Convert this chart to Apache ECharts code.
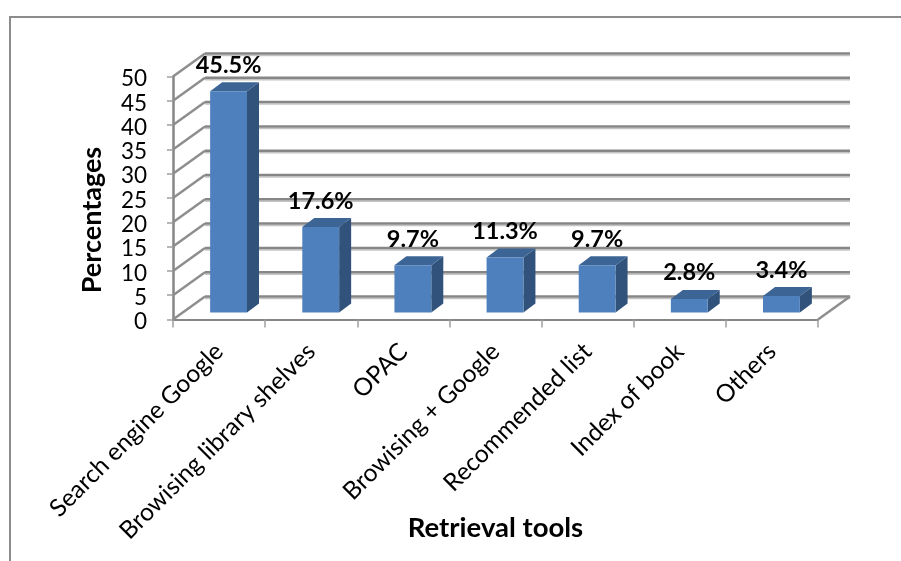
<!DOCTYPE html>
<html><head><meta charset="utf-8">
<style>html,body{margin:0;padding:0;background:#fff}#c{width:901px;height:561px}</style>
<script src="https://cdn.jsdelivr.net/npm/echarts@6/dist/echarts.min.js"></script>
</head><body><div id="c"></div>
<script>
const categories = ['Search engine Google','Browising library shelves','OPAC','Browising + Google','Recommended list','Index of book','Others'];
const values = [45.5,17.6,9.7,11.3,9.7,2.8,3.4];
const valueLabels = ['45.5%','17.6%','9.7%','11.3%','9.7%','2.8%','3.4%'];
const yTicks = [0,5,10,15,20,25,30,35,40,45,50];
const xTitle = 'Retrieval tools';
const yTitle = 'Percentages';

const FONT = 'Lato, "Open Sans", sans-serif';
const WALL = [32,-23];      // depth of the plot box
const BASE = [9.5,-7];      // where the bar's front face stands inside the box
const BAR = [12,-9];        // bar depth
const GRID = '#868686';

function wallItem(params, api){
  const v = api.value(0);
  const cs = params.coordSys;
  const left = cs.x, right = cs.x+cs.width;
  const y = api.coord([0,v])[1];
  const bx0 = left+WALL[0], bx1 = right+WALL[0], by = y+WALL[1];
  const line = (x1,y1,x2,y2,s,w)=>({type:'line',shape:{x1,y1,x2,y2},style:{stroke:s,lineWidth:w}});
  const kids = [];
  kids.push(line(bx0,by+2,bx1,by+2,'#c4c4c4',1.5));
  kids.push(line(bx0,by,bx1,by,GRID,2.5));
  kids.push(line(left,y,bx0,by,'#8e8e8e',2.5));
  if(v===0) kids.push(line(right,y,bx1,by,'#8e8e8e',2.5));
  return {type:'group',children:kids};
}
function barItem(params, api){
  const i = api.value(0), v = api.value(1);
  const top = api.coord([i,v]), bot = api.coord([i,0]);
  const w = api.size([1,0])[0]*0.4;
  const x0 = top[0]-w/2+BASE[0], x1 = x0+w;
  const yt = top[1]+BASE[1], yb = bot[1]+BASE[1];
  const dx = BAR[0], dy = BAR[1];
  return {type:'group',children:[
    {type:'polygon',shape:{points:[[x1,yt],[x1+dx,yt+dy],[x1+dx,yb+dy],[x1,yb]]},style:{fill:'#31527B'}},
    {type:'polygon',shape:{points:[[x0,yt],[x0+dx,yt+dy],[x1+dx,yt+dy],[x1,yt]]},style:{fill:'#3C6595'}},
    {type:'rect',shape:{x:x0,y:yt,width:w,height:yb-yt},style:{fill:'#4E80BD'}},
    {type:'text',style:{text:valueLabels[i],x:(x0+x1)/2,y:yt-26,align:'center',verticalAlign:'middle',
      font:'bold 23.5px '+FONT,fill:'#000'}}
  ]};
}
const chart = echarts.init(document.getElementById('c'),null,{renderer:'canvas'});
chart.setOption({
  animation:false,
  backgroundColor:'#fff',
  graphic:[
    {type:'polyline',silent:true,z:0,shape:{points:[[10,561],[10,17],[901,17]]},style:{stroke:'#8c8c8c',lineWidth:2,fill:null}}
  ],
  grid:{left:173,right:83,top:76.5,height:243,containLabel:false,outerBoundsMode:'none'},
  xAxis:{type:'category',data:categories,
    name:xTitle,nameLocation:'middle',nameGap:195,nameMoveOverlap:false,
    nameTextStyle:{fontFamily:FONT,fontWeight:'bold',fontSize:27.5,color:'#000'},
    axisLine:{lineStyle:{color:GRID,width:2}},
    axisTick:{show:true,alignWithLabel:false,length:8,lineStyle:{color:'#a0a0a0',width:1.5}},
    axisLabel:{rotate:45,interval:0,margin:28,fontFamily:FONT,fontSize:24.5,color:'#000'},
    splitLine:{show:false}},
  yAxis:{type:'value',min:0,max:50,interval:5,
    name:yTitle,nameLocation:'middle',nameGap:67,nameRotate:90,nameMoveOverlap:false,
    nameTextStyle:{fontFamily:FONT,fontWeight:'bold',fontSize:27,color:'#000',padding:[0,44,0,0]},
    axisLine:{show:true,lineStyle:{color:GRID,width:2.5}},
    axisTick:{show:true,length:6,lineStyle:{color:'#a0a0a0',width:1.5}},
    axisLabel:{margin:26,fontFamily:FONT,fontSize:22.5,color:'#000',verticalAlign:'top',lineHeight:5},
    splitLine:{show:false}},
  series:[
    {type:'custom',z:1,coordinateSystem:'cartesian2d',clip:false,silent:true,
      encode:{x:1,y:0},data:yTicks.map(t=>[t,0]),renderItem:wallItem},
    {type:'custom',z:3,coordinateSystem:'cartesian2d',clip:false,silent:true,
      encode:{x:0,y:1},data:values.map((v,i)=>[i,v]),renderItem:barItem}
  ]
});
</script></body></html>
